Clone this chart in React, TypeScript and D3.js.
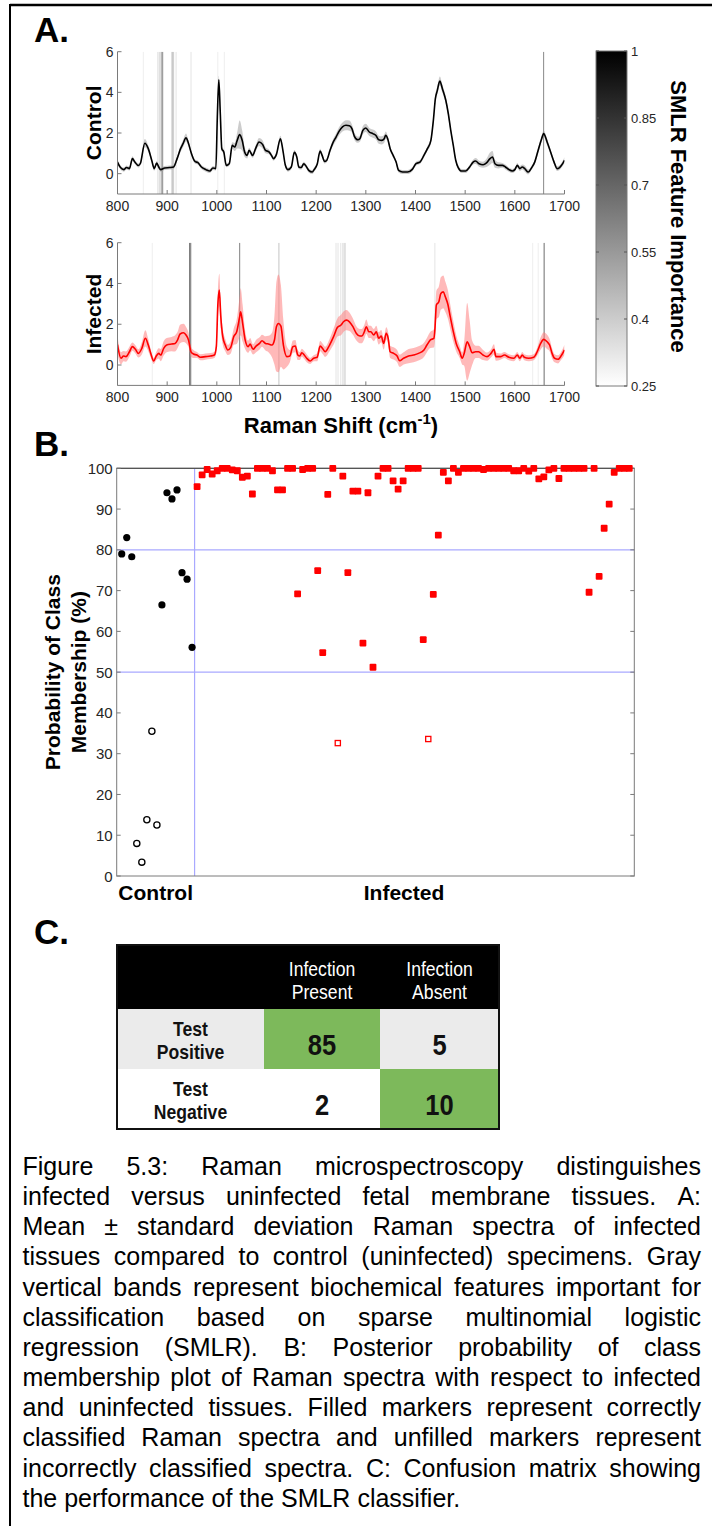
import React, { useMemo } from "react";
import * as d3 from "d3";

const FONT = "'Liberation Sans', Arial, Helvetica, sans-serif";

// ---------- Panel A data: [Raman shift, mean, sd] ----------
const controlSpectrum: number[][] = [
  [800,0.57,0.12],[806,0.3,0.1],[813,0.2,0.1],[818,0.3,0.1],[824,0.25,0.1],[830,0.74,0.12],[835,0.57,0.1],[842,0.4,0.1],[846,0.5,0.1],[855,1.5,0.2],
  [862,1.23,0.15],[869,0.65,0.1],[874,0.25,0.1],[879,0.52,0.1],[883,0.33,0.1],[887,0.2,0.1],[895,0.28,0.1],[905,0.3,0.1],[913,0.33,0.1],[920,0.74,0.12],
  [927,1.23,0.15],[932,1.48,0.18],[938,1.77,0.2],[942,1.56,0.15],[949,0.98,0.12],[956,0.6,0.1],[962,0.54,0.1],[969,0.33,0.1],[978,0.2,0.1],[986,0.13,0.1],
  [992,0.28,0.1],[998,0.25,0.1],[1001,2.8,0.15],[1004,4.62,0.2],[1007,2.95,0.15],[1010,1.23,0.12],[1014,1.07,0.12],[1019,0.41,0.1],[1025,0.49,0.1],[1031,1.39,0.15],
  [1036,1.31,0.2],[1041,1.64,0.4],[1046,1.92,0.7],[1051,1.64,0.5],[1056,1.07,0.25],[1061,0.9,0.15],[1065,1.15,0.12],[1072,0.9,0.12],[1078,1.23,0.15],[1085,1.56,0.2],
  [1092,1.44,0.2],[1098,1.15,0.15],[1105,1.07,0.12],[1110,0.9,0.1],[1114,0.74,0.1],[1120,0.95,0.12],[1128,1.72,0.15],[1133,1.15,0.12],[1138,0.41,0.1],[1143,0.2,0.1],
  [1150,0.33,0.1],[1156,1.05,0.12],[1161,0.82,0.1],[1165,0.33,0.1],[1170,0.3,0.1],[1175,0.49,0.1],[1180,0.36,0.1],[1185,0.16,0.1],[1192,0.08,0.1],[1196,0.2,0.1],
  [1202,0.46,0.1],[1208,1.11,0.12],[1212,0.9,0.1],[1217,0.6,0.1],[1221,0.65,0.1],[1228,1.15,0.12],[1233,1.48,0.15],[1240,1.8,0.18],[1246,2.08,0.2],[1253,2.3,0.22],
  [1260,2.38,0.25],[1267,2.36,0.25],[1272,2.22,0.2],[1277,1.84,0.18],[1284,1.67,0.15],[1288,1.72,0.15],[1294,2.13,0.2],[1300,2.25,0.2],[1307,2.05,0.2],[1314,1.97,0.2],
  [1320,1.89,0.2],[1326,1.67,0.2],[1332,1.64,0.2],[1337,1.72,0.2],[1340,1.89,0.18],[1344,1.72,0.15],[1349,1.23,0.12],[1355,0.9,0.1],[1361,0.57,0.1],[1366,0.16,0.1],
  [1374,0.08,0.1],[1384,0.08,0.1],[1393,0.2,0.1],[1401,0.49,0.1],[1409,0.57,0.1],[1417,0.9,0.1],[1424,1.23,0.12],[1431,1.64,0.15],[1436,2.63,0.18],[1440,3.69,0.2],
  [1444,4.1,0.2],[1449,4.56,0.22],[1454,4.19,0.2],[1461,3.61,0.18],[1466,2.96,0.15],[1471,2.13,0.12],[1476,1.4,0.12],[1481,0.66,0.1],[1486,0.3,0.1],[1493,0.13,0.1],
  [1501,0.13,0.1],[1509,0.33,0.1],[1516,0.57,0.12],[1521,0.62,0.15],[1528,0.49,0.15],[1536,0.44,0.15],[1543,0.53,0.2],[1550,0.74,0.3],[1555,0.82,0.3],[1560,0.49,0.2],
  [1567,0.41,0.15],[1575,0.41,0.12],[1581,0.33,0.12],[1588,0.2,0.1],[1595,0.13,0.1],[1600,0.2,0.1],[1605,0.41,0.12],[1610,0.25,0.12],[1615,0.33,0.12],[1620,0.25,0.15],
  [1627,0.08,0.12],[1634,0.3,0.1],[1640,0.57,0.12],[1647,1.15,0.15],[1654,1.72,0.15],[1658,1.97,0.15],[1665,1.56,0.15],[1672,1.07,0.12],[1679,0.57,0.12],[1685,0.25,0.12],
  [1690,0.3,0.12],[1694,0.41,0.12],[1700,0.66,0.15],
];

const infectedSpectrum: number[][] = [
  [800,1.0,0.45],[807,0.33,0.3],[812,0.44,0.25],[817,0.41,0.25],[824,0.65,0.25],[830,0.9,0.2],[836,0.77,0.2],[842,0.57,0.2],[849,0.82,0.3],[856,1.31,0.4],
  [862,0.98,0.3],[867,0.57,0.2],[873,0.2,0.15],[878,0.44,0.2],[883,0.57,0.25],[887,0.49,0.3],[893,0.82,0.35],[899,0.98,0.35],[909,1.03,0.35],[916,1.06,0.4],
  [921,1.23,0.4],[926,1.52,0.45],[933,1.58,0.45],[938,1.47,0.4],[943,1.23,0.35],[948,0.65,0.25],[953,0.54,0.2],[960,0.49,0.15],[967,0.38,0.15],[977,0.41,0.15],
  [987,0.44,0.15],[995,0.49,0.15],[999,0.9,0.3],[1002,2.94,0.7],[1005,3.68,0.8],[1008,2.37,0.6],[1012,1.39,0.4],[1017,0.98,0.3],[1022,0.74,0.25],[1028,0.87,0.3],
  [1034,1.39,0.4],[1040,1.63,0.6],[1046,2.37,1.0],[1048,2.61,1.15],[1052,2.04,0.9],[1057,1.23,0.45],[1063,0.9,0.3],[1067,1.03,0.3],[1073,0.77,0.25],[1079,0.93,0.3],
  [1086,1.06,0.3],[1091,1.19,0.3],[1098,1.06,0.35],[1104,1.03,0.4],[1111,0.98,0.6],[1116,1.23,1.2],[1120,1.88,2.2],[1124,2.04,2.4],[1129,1.91,2.0],[1134,0.98,1.2],
  [1141,0.41,0.5],[1147,0.44,0.3],[1153,0.9,0.3],[1158,0.93,0.3],[1163,0.49,0.25],[1167,0.44,0.2],[1171,0.6,0.2],[1176,0.49,0.2],[1181,0.33,0.2],[1188,0.2,0.15],
  [1195,0.33,0.15],[1202,0.38,0.2],[1208,0.93,0.25],[1214,0.77,0.25],[1218,0.65,0.25],[1227,0.98,0.3],[1235,1.39,0.4],[1243,1.85,0.45],[1250,1.96,0.5],[1255,2.12,0.5],
  [1261,2.2,0.5],[1267,2.12,0.45],[1274,1.88,0.4],[1281,1.55,0.35],[1288,1.42,0.35],[1292,1.42,0.35],[1297,1.63,0.35],[1301,1.88,0.35],[1306,1.63,0.3],[1310,1.63,0.3],
  [1316,1.47,0.3],[1321,1.63,0.3],[1326,1.31,0.3],[1331,1.42,0.3],[1336,1.06,0.3],[1341,1.55,0.3],[1345,1.31,0.3],[1349,0.65,0.3],[1356,0.57,0.3],[1363,0.44,0.3],
  [1368,0.21,0.3],[1376,0.33,0.3],[1386,0.44,0.35],[1396,0.49,0.35],[1406,0.57,0.35],[1417,0.74,0.35],[1423,0.98,0.35],[1430,1.23,0.4],[1437,1.31,0.45],[1439,1.72,0.6],
  [1442,2.94,0.7],[1447,3.1,0.75],[1451,3.51,0.8],[1456,3.59,0.8],[1460,3.35,0.75],[1465,2.99,0.7],[1470,2.37,0.6],[1477,1.55,0.5],[1482,1.06,0.4],[1489,0.65,0.3],
  [1494,0.33,0.3],[1498,0.57,0.6],[1504,1.14,1.9],[1509,0.9,1.3],[1514,0.6,0.6],[1521,0.65,0.3],[1527,0.65,0.3],[1536,0.49,0.25],[1544,0.41,0.2],[1552,0.57,0.2],
  [1558,0.77,0.25],[1562,0.41,0.2],[1571,0.41,0.15],[1579,0.49,0.15],[1588,0.38,0.15],[1598,0.33,0.15],[1605,0.49,0.15],[1610,0.33,0.15],[1615,0.49,0.15],[1619,0.38,0.15],
  [1628,0.33,0.15],[1638,0.38,0.15],[1645,0.65,0.2],[1652,1.06,0.3],[1658,1.26,0.35],[1665,1.14,0.35],[1670,0.98,0.3],[1675,0.57,0.25],[1680,0.33,0.2],[1687,0.28,0.2],
  [1693,0.44,0.2],[1700,0.74,0.25],
];

// SMLR important features: [Raman shift, importance]
const controlFeatures: number[][] = [
  [852,0.3],[881,0.33],[884,0.38],[888,0.55],[891,0.6],[910,0.5],[913,0.4],[918,0.33],[948,0.33],[1002,0.3],[1015,0.3],[1658,0.6],
];
const infectedFeatures: number[][] = [
  [870,0.3],[945.5,0.75],[947.5,0.65],[1046,0.62],[1125,0.42],[1240,0.33],[1244,0.33],[1249.5,0.33],[1254,0.38],[1258,0.42],[1439,0.33],[1636,0.3],[1647,0.3],[1659,0.68],
];

const shiftTicks = [800, 900, 1000, 1100, 1200, 1300, 1400, 1500, 1600, 1700];
const intensityTicks = [0, 2, 4, 6];
const colorbarTicks = [0.25, 0.4, 0.55, 0.7, 0.85, 1];

// ---------- Panel B data: posterior probability (%) per spectrum ----------
const controlProb = [79, 83, 78.3, 8, 3.4, 13.8, 35.5, 12.5, 66.5, 94, 92.5, 94.7, 74.4, 72.8, 56.1];
const infectedProb = [
  95.5, 98.4, 99.7, 98.6, 99.4, 100, 100, 99.6, 99.4, 97.8,
  98.1, 93.7, 100, 100, 100, 99.4, 94.7, 94.7, 100, 100,
  69.2, 99.7, 100, 100, 74.9, 54.8, 93.6, 100, 32.6, 98.1,
  74.4, 94.4, 94.4, 57.1, 94.0, 51.2, 98.1, 100, 100, 96.9,
  94.9, 96.9, 100, 100, 100, 58.0, 33.6, 69.1, 83.6, 99.0,
  96.9, 100, 99.0, 100, 100, 100, 100, 99.7, 100, 100,
  100, 100, 100, 99.4, 99.4, 100, 99.3, 100, 97.4, 97.9,
  99.6, 100, 97.5, 100, 100, 100, 100, 100, 69.6, 100,
  73.5, 85.3, 91.2, 99.0, 100, 100, 100,
];
const probTicks = [0, 10, 20, 30, 40, 50, 60, 70, 80, 90, 100];
const probGuides = [50, 80];

// ---------- Panel C data ----------
const matrixCols = [["Infection", "Present"], ["Infection", "Absent"]];
const matrixRows = [["Test", "Positive"], ["Test", "Negative"]];
const matrixCounts = [[85, 5], [2, 10]];

const captionLines = [
  "Figure 5.3: Raman microspectroscopy distinguishes",
  "infected versus uninfected fetal membrane tissues. A:",
  "Mean \u00b1 standard deviation Raman spectra of infected",
  "tissues compared to control (uninfected) specimens. Gray",
  "vertical bands represent biochemical features important for",
  "classification based on sparse multinomial logistic",
  "regression (SMLR). B: Posterior probability of class",
  "membership plot of Raman spectra with respect to infected",
  "and uninfected tissues. Filled markers represent correctly",
  "classified Raman spectra and unfilled markers represent",
  "incorrectly classified spectra. C: Confusion matrix showing",
  "the performance of the SMLR classifier.",
];

const xA = d3.scaleLinear().domain([800, 1700]).range([117.5, 564.5]);
const grayScale = d3.scaleLinear<string>().domain([0.25, 1]).range(["#ffffff", "#000000"]);
const AXIS = "#7a7a7a";
const TICKTXT = "#262626";

function SpectrumPanel(props: {
  data: number[][]; features: number[][]; y: d3.ScaleLinear<number, number>;
  stroke: string; band: string; bandOpacity: number; label: string; id: string;
}) {
  const { data, features, y, stroke, band, bandOpacity, label, id } = props;
  const line = d3.line<number[]>().x(d => xA(d[0])).y(d => y(d[1])).curve(d3.curveMonotoneX);
  const area = d3.area<number[]>().x(d => xA(d[0])).y0(d => y(d[1] - d[2])).y1(d => y(d[1] + d[2])).curve(d3.curveMonotoneX);
  const [x0, x1] = xA.range();
  const yTop = y(6), yBot = y(-1);
  return (
    <g>
      <defs>
        <clipPath id={id}><rect x={x0} y={yTop} width={x1 - x0} height={yBot - yTop} /></clipPath>
      </defs>
      <g clipPath={`url(#${id})`}>
        {features.map((f, i) => (
          <line key={i} x1={xA(f[0])} x2={xA(f[0])} y1={yTop} y2={yBot} stroke={grayScale(f[1])} strokeWidth={1} />
        ))}
        <path d={area(data) || ""} fill={band} fillOpacity={bandOpacity} stroke="none" />
        <path d={line(data) || ""} fill="none" stroke={stroke} strokeWidth={1.6} strokeLinejoin="round" />
      </g>
      <line x1={x0} x2={x0} y1={yTop} y2={yBot} stroke={AXIS} strokeWidth={1} />
      <line x1={x0} x2={x1} y1={yBot} y2={yBot} stroke={AXIS} strokeWidth={1} />
      {intensityTicks.map(t => (
        <g key={t}>
          <line x1={x0} x2={x0 + 4} y1={y(t)} y2={y(t)} stroke={AXIS} />
          <text x={x0 - 4} y={y(t)} textAnchor="end" dominantBaseline="central" fontSize={14} fill={TICKTXT}>{t}</text>
        </g>
      ))}
      {shiftTicks.map(t => (
        <g key={t}>
          <line x1={xA(t)} x2={xA(t)} y1={yBot} y2={yBot - 4} stroke={AXIS} />
          <text x={xA(t)} y={yBot + 17} textAnchor="middle" fontSize={14} fill={TICKTXT}>{t}</text>
        </g>
      ))}
      <text transform={`translate(93,${(yTop + yBot) / 2}) rotate(-90)`} textAnchor="middle" dominantBaseline="central"
        fontSize={21} fontWeight="bold" fill="#000">{label}</text>
    </g>
  );
}

function Caption() {
  const left = 22.5, right = 701, fontSize = 25, lh = 30.15, base0 = 1175;
  const laid = useMemo(() => {
    const ctx = document.createElement("canvas").getContext("2d")!;
    ctx.font = `${fontSize}px 'Liberation Sans', Arial, sans-serif`;
    const space = ctx.measureText(" ").width;
    return captionLines.map((ln, li) => {
      const words = ln.split(" ");
      const widths = words.map(w => ctx.measureText(w).width);
      const total = widths.reduce((a, b) => a + b, 0);
      const last = li === captionLines.length - 1;
      const gap = last || words.length < 2 ? space : (right - left - total) / (words.length - 1);
      let x = left;
      return words.map((w, i) => {
        const pos = x;
        x += widths[i] + gap;
        return { w, x: pos };
      });
    });
  }, []);
  return (
    <g fontSize={fontSize} fill="#000">
      {laid.map((ws, li) => ws.map((w, i) => (
        <text key={`${li}-${i}`} x={w.x} y={base0 + li * lh}>{w.w}</text>
      )))}
    </g>
  );
}

function ConfusionMatrix() {
  const xs = [117, 264, 380, 499];
  const ys = [945, 1009, 1069, 1129];
  const green = "#7db95b";
  const rowBg = ["#ebebeb", "#ffffff"];
  const narrow = (cx: number, yy: number, txt: string, size: number, weight: string, fill: string) => (
    <text key={`${cx}-${yy}-${txt}`} transform={`translate(${cx},${yy}) scale(0.88,1)`} textAnchor="middle"
      fontSize={size} fontWeight={weight} fill={fill}>{txt}</text>
  );
  return (
    <g>
      <rect x={xs[0]} y={ys[0]} width={xs[3] - xs[0]} height={ys[1] - ys[0]} fill="#000" />
      {matrixCols.map((c, ci) => {
        const cx = (xs[ci + 1] + xs[ci + 2]) / 2;
        return [narrow(cx, 976, c[0], 20, "normal", "#fff"), narrow(cx, 999, c[1], 20, "normal", "#fff")];
      })}
      {matrixRows.map((r, ri) => {
        const y0 = ys[ri + 1], y1 = ys[ri + 2];
        const hx = (xs[0] + xs[1]) / 2;
        return (
          <g key={ri}>
            <rect x={xs[0]} y={y0} width={xs[1] - xs[0]} height={y1 - y0} fill={rowBg[ri]} />
            {matrixCounts[ri].map((v, ci) => (
              <rect key={ci} x={xs[ci + 1]} y={y0} width={xs[ci + 2] - xs[ci + 1]} height={y1 - y0}
                fill={ri === ci ? green : rowBg[ri]} />
            ))}
            {narrow(hx, y0 + 27, r[0], 20, "bold", "#111")}
            {narrow(hx, y0 + 50, r[1], 20, "bold", "#111")}
            {matrixCounts[ri].map((v, ci) => narrow((xs[ci + 1] + xs[ci + 2]) / 2, y0 + 46, String(v), 29, "bold", "#111"))}
          </g>
        );
      })}
      <rect x={xs[0]} y={ys[0]} width={xs[3] - xs[0]} height={ys[3] - ys[0]} fill="none" stroke="#111" strokeWidth={2} />
    </g>
  );
}

function ProbabilityPanel() {
  const xB = d3.scaleLinear().domain([0, 103]).range([116.7, 634.3]);
  const yB = d3.scaleLinear().domain([0, 100]).range([876, 468.3]);
  const [x0, x1] = xB.range();
  const [yb, yt] = yB.range();
  const nC = controlProb.length;
  const guide = "#a9a9ff";
  return (
    <g>
      {probGuides.map(g => (
        <line key={g} x1={x0} x2={x1} y1={yB(g)} y2={yB(g)} stroke={guide} strokeWidth={1.2} />
      ))}
      <line x1={xB(nC + 0.5)} x2={xB(nC + 0.5)} y1={yt} y2={yb} stroke={guide} strokeWidth={1.2} />
      <rect x={x0} y={yt} width={x1 - x0} height={yb - yt} fill="none" stroke={AXIS} strokeWidth={1} />
      <line x1={x0} x2={x1} y1={yt} y2={yt} stroke="#555" strokeWidth={1.2} />
      {probTicks.map(t => (
        <g key={t}>
          <line x1={x0} x2={x0 + 4} y1={yB(t)} y2={yB(t)} stroke={AXIS} />
          <line x1={x1} x2={x1 - 4} y1={yB(t)} y2={yB(t)} stroke={AXIS} />
          <text x={x0 - 4} y={yB(t)} textAnchor="end" dominantBaseline="central" fontSize={15} fill={TICKTXT}>{t}</text>
        </g>
      ))}
      {controlProb.map((p, i) => (
        p >= 50
          ? <circle key={`c${i}`} cx={xB(i + 1)} cy={yB(p)} r={3.6} fill="#000" />
          : <circle key={`c${i}`} cx={xB(i + 1)} cy={yB(p)} r={3.1} fill="none" stroke="#000" strokeWidth={1.3} />
      ))}
      {infectedProb.map((p, i) => {
        const cx = xB(nC + i + 1), cy = yB(p);
        return p >= 50
          ? <rect key={`i${i}`} x={cx - 3.4} y={cy - 3.4} width={6.8} height={6.8} rx={1} fill="#ff0000" />
          : <rect key={`i${i}`} x={cx - 2.6} y={cy - 2.6} width={5.2} height={5.2} fill="#fff" stroke="#ff0000" strokeWidth={1.3} />;
      })}
      <text x={(x0 + xB(nC + 0.5)) / 2} y={900} textAnchor="middle" fontSize={21} fontWeight="bold" fill="#000">Control</text>
      <text x={404} y={900} textAnchor="middle" fontSize={21} fontWeight="bold" fill="#000">Infected</text>
      <text transform={`translate(52,${(yt + yb) / 2}) rotate(-90)`} textAnchor="middle" dominantBaseline="central"
        fontSize={21} fontWeight="bold" fill="#000">Probability of Class</text>
      <text transform={`translate(78,${(yt + yb) / 2}) rotate(-90)`} textAnchor="middle" dominantBaseline="central"
        fontSize={21} fontWeight="bold" fill="#000">Membership (%)</text>
    </g>
  );
}

function Colorbar() {
  const cy = d3.scaleLinear().domain([0.25, 1]).range([386, 51]);
  const x0 = 596, x1 = 627;
  return (
    <g>
      <defs>
        <linearGradient id="cbar" x1="0" y1="1" x2="0" y2="0">
          <stop offset="0" stopColor={grayScale(0.25)} />
          <stop offset="1" stopColor={grayScale(1)} />
        </linearGradient>
      </defs>
      <rect x={x0} y={cy(1)} width={x1 - x0} height={cy(0.25) - cy(1)} fill="url(#cbar)" stroke={AXIS} strokeWidth={1} />
      {colorbarTicks.map(t => (
        <g key={t}>
          <line x1={x0} x2={x0 + 3} y1={cy(t)} y2={cy(t)} stroke="#555" />
          <line x1={x1} x2={x1 - 3} y1={cy(t)} y2={cy(t)} stroke="#555" />
          <text x={x1 + 4} y={cy(t)} dominantBaseline="central" fontSize={13} fill={TICKTXT}>{t}</text>
        </g>
      ))}
      <text transform={`translate(678,${(cy(1) + cy(0.25)) / 2 - 2}) rotate(90)`} textAnchor="middle" dominantBaseline="central"
        fontSize={22} fontWeight="bold" fill="#000">SMLR Feature Importance</text>
    </g>
  );
}

export default function App() {
  const yTop = d3.scaleLinear().domain([-1, 6]).range([194, 51.7]);
  const yBot = d3.scaleLinear().domain([-1, 6]).range([385.4, 242.7]);
  return (
    <svg width={712} height={1526} style={{ position: "absolute", left: 0, top: 0, background: "#fff" }}
      fontFamily={FONT}>
      <rect x={0} y={0} width={712} height={1526} fill="#fff" />
      <line x1={10} x2={712} y1={5} y2={5} stroke="#000" strokeWidth={2.5} />
      <line x1={10} x2={10} y1={4} y2={1526} stroke="#000" strokeWidth={2} />

      <text x={34} y={42} fontSize={35} fontWeight="bold" fill="#000">A.</text>
      <SpectrumPanel data={controlSpectrum} features={controlFeatures} y={yTop} stroke="#000" band="#9a9a9a"
        bandOpacity={0.5} label="Control" id="clipC" />
      <SpectrumPanel data={infectedSpectrum} features={infectedFeatures} y={yBot} stroke="#ff0000" band="#ff7f7f"
        bandOpacity={0.55} label="Infected" id="clipI" />
      <text x={341} y={433} textAnchor="middle" fontSize={22} fontWeight="bold" fill="#000">
        Raman Shift (cm<tspan fontSize={15} dy={-9}>-1</tspan><tspan dy={9}>)</tspan>
      </text>
      <Colorbar />

      <text x={34} y={456} fontSize={35} fontWeight="bold" fill="#000">B.</text>
      <ProbabilityPanel />

      <text x={34} y={944} fontSize={35} fontWeight="bold" fill="#000">C.</text>
      <ConfusionMatrix />

      <Caption />
    </svg>
  );
}
